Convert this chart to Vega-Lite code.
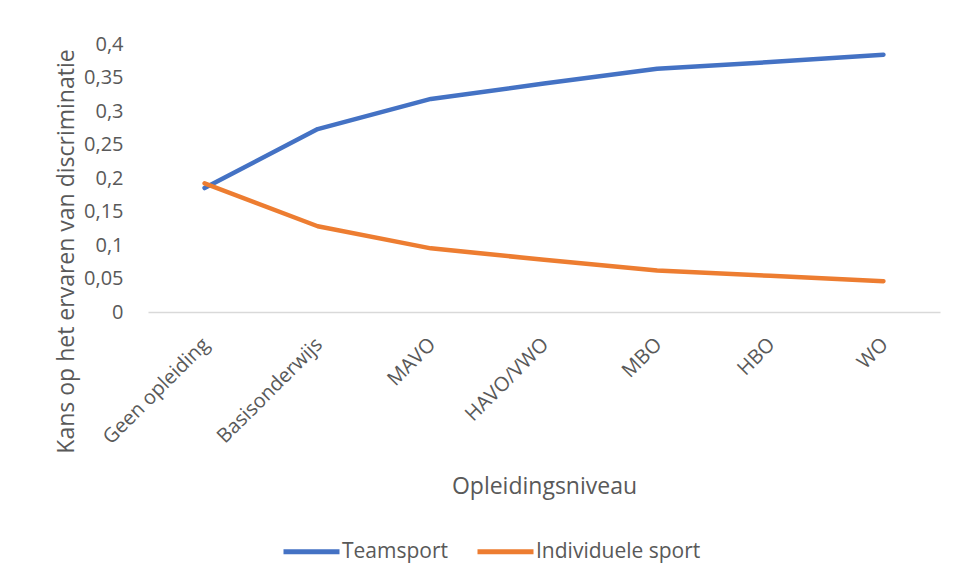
{
  "$schema": "https://vega.github.io/schema/vega-lite/v6.json",
  "width": 792,
  "height": 268,
  "autosize": {"type": "none"},
  "padding": {"left": 148, "top": 44, "right": 16, "bottom": 271},
  "background": "white",
  "config": {
    "locale": {"number": {"decimal": ",", "thousands": ".", "grouping": [3], "currency": ["€", ""]}},
    "view": {"stroke": null},
    "font": "Open Sans"
  },
  "data": {
    "values": [
      {"niveau": "Geen opleiding", "type": "Teamsport", "kans": 0.185},
      {"niveau": "Basisonderwijs", "type": "Teamsport", "kans": 0.273},
      {"niveau": "MAVO", "type": "Teamsport", "kans": 0.318},
      {"niveau": "HAVO/VWO", "type": "Teamsport", "kans": 0.341},
      {"niveau": "MBO", "type": "Teamsport", "kans": 0.363},
      {"niveau": "HBO", "type": "Teamsport", "kans": 0.373},
      {"niveau": "WO", "type": "Teamsport", "kans": 0.384},
      {"niveau": "Geen opleiding", "type": "Individuele sport", "kans": 0.192},
      {"niveau": "Basisonderwijs", "type": "Individuele sport", "kans": 0.128},
      {"niveau": "MAVO", "type": "Individuele sport", "kans": 0.095},
      {"niveau": "HAVO/VWO", "type": "Individuele sport", "kans": 0.078},
      {"niveau": "MBO", "type": "Individuele sport", "kans": 0.062},
      {"niveau": "HBO", "type": "Individuele sport", "kans": 0.054},
      {"niveau": "WO", "type": "Individuele sport", "kans": 0.046}
    ]
  },
  "mark": {"type": "line", "strokeWidth": 4.5, "strokeCap": "round", "strokeJoin": "round"},
  "encoding": {
    "x": {
      "field": "niveau",
      "type": "nominal",
      "sort": ["Geen opleiding", "Basisonderwijs", "MAVO", "HAVO/VWO", "MBO", "HBO", "WO"],
      "scale": {"type": "point", "padding": 0.5},
      "axis": {
        "title": "Opleidingsniveau",
        "titleFont": "Open Sans",
        "titleFontSize": 23,
        "titleFontWeight": "normal",
        "titleColor": "#595959",
        "titlePadding": 28,
        "labelAngle": -45,
        "labelFont": "Open Sans",
        "labelFontSize": 20,
        "labelColor": "#595959",
        "labelPadding": 22,
        "labelOffset": -6,
        "ticks": false,
        "grid": false,
        "domainColor": "#d9d9d9",
        "domainWidth": 1.5
      }
    },
    "y": {
      "field": "kans",
      "type": "quantitative",
      "scale": {"domain": [0, 0.4], "nice": false},
      "axis": {
        "title": "Kans op het ervaren van discriminatie",
        "titleFont": "Open Sans",
        "titleFontSize": 23,
        "titleFontWeight": "normal",
        "titleColor": "#595959",
        "titleX": -82,
        "titleY": 207,
        "titleAngle": -90,
        "titleBaseline": "middle",
        "titleAlign": "center",
        "values": [0, 0.05, 0.1, 0.15, 0.2, 0.25, 0.3, 0.35, 0.4],
        "format": ".2~f",
        "labelFont": "Open Sans",
        "labelFontSize": 20,
        "labelColor": "#595959",
        "labelPadding": 25,
        "ticks": false,
        "domain": false,
        "grid": false
      }
    },
    "color": {
      "field": "type",
      "type": "nominal",
      "sort": ["Teamsport", "Individuele sport"],
      "scale": {"domain": ["Teamsport", "Individuele sport"], "range": ["#4472C4", "#ED7D31"]},
      "legend": {
        "title": null,
        "orient": "none",
        "direction": "horizontal",
        "legendX": 133,
        "legendY": 477,
        "symbolType": "stroke",
        "symbolSize": 3136,
        "symbolStrokeWidth": 5,
        "labelFont": "Open Sans",
        "labelFontSize": 21,
        "labelColor": "#595959",
        "labelOffset": 0,
        "labelLimit": 400,
        "columnPadding": 18
      }
    }
  }
}
